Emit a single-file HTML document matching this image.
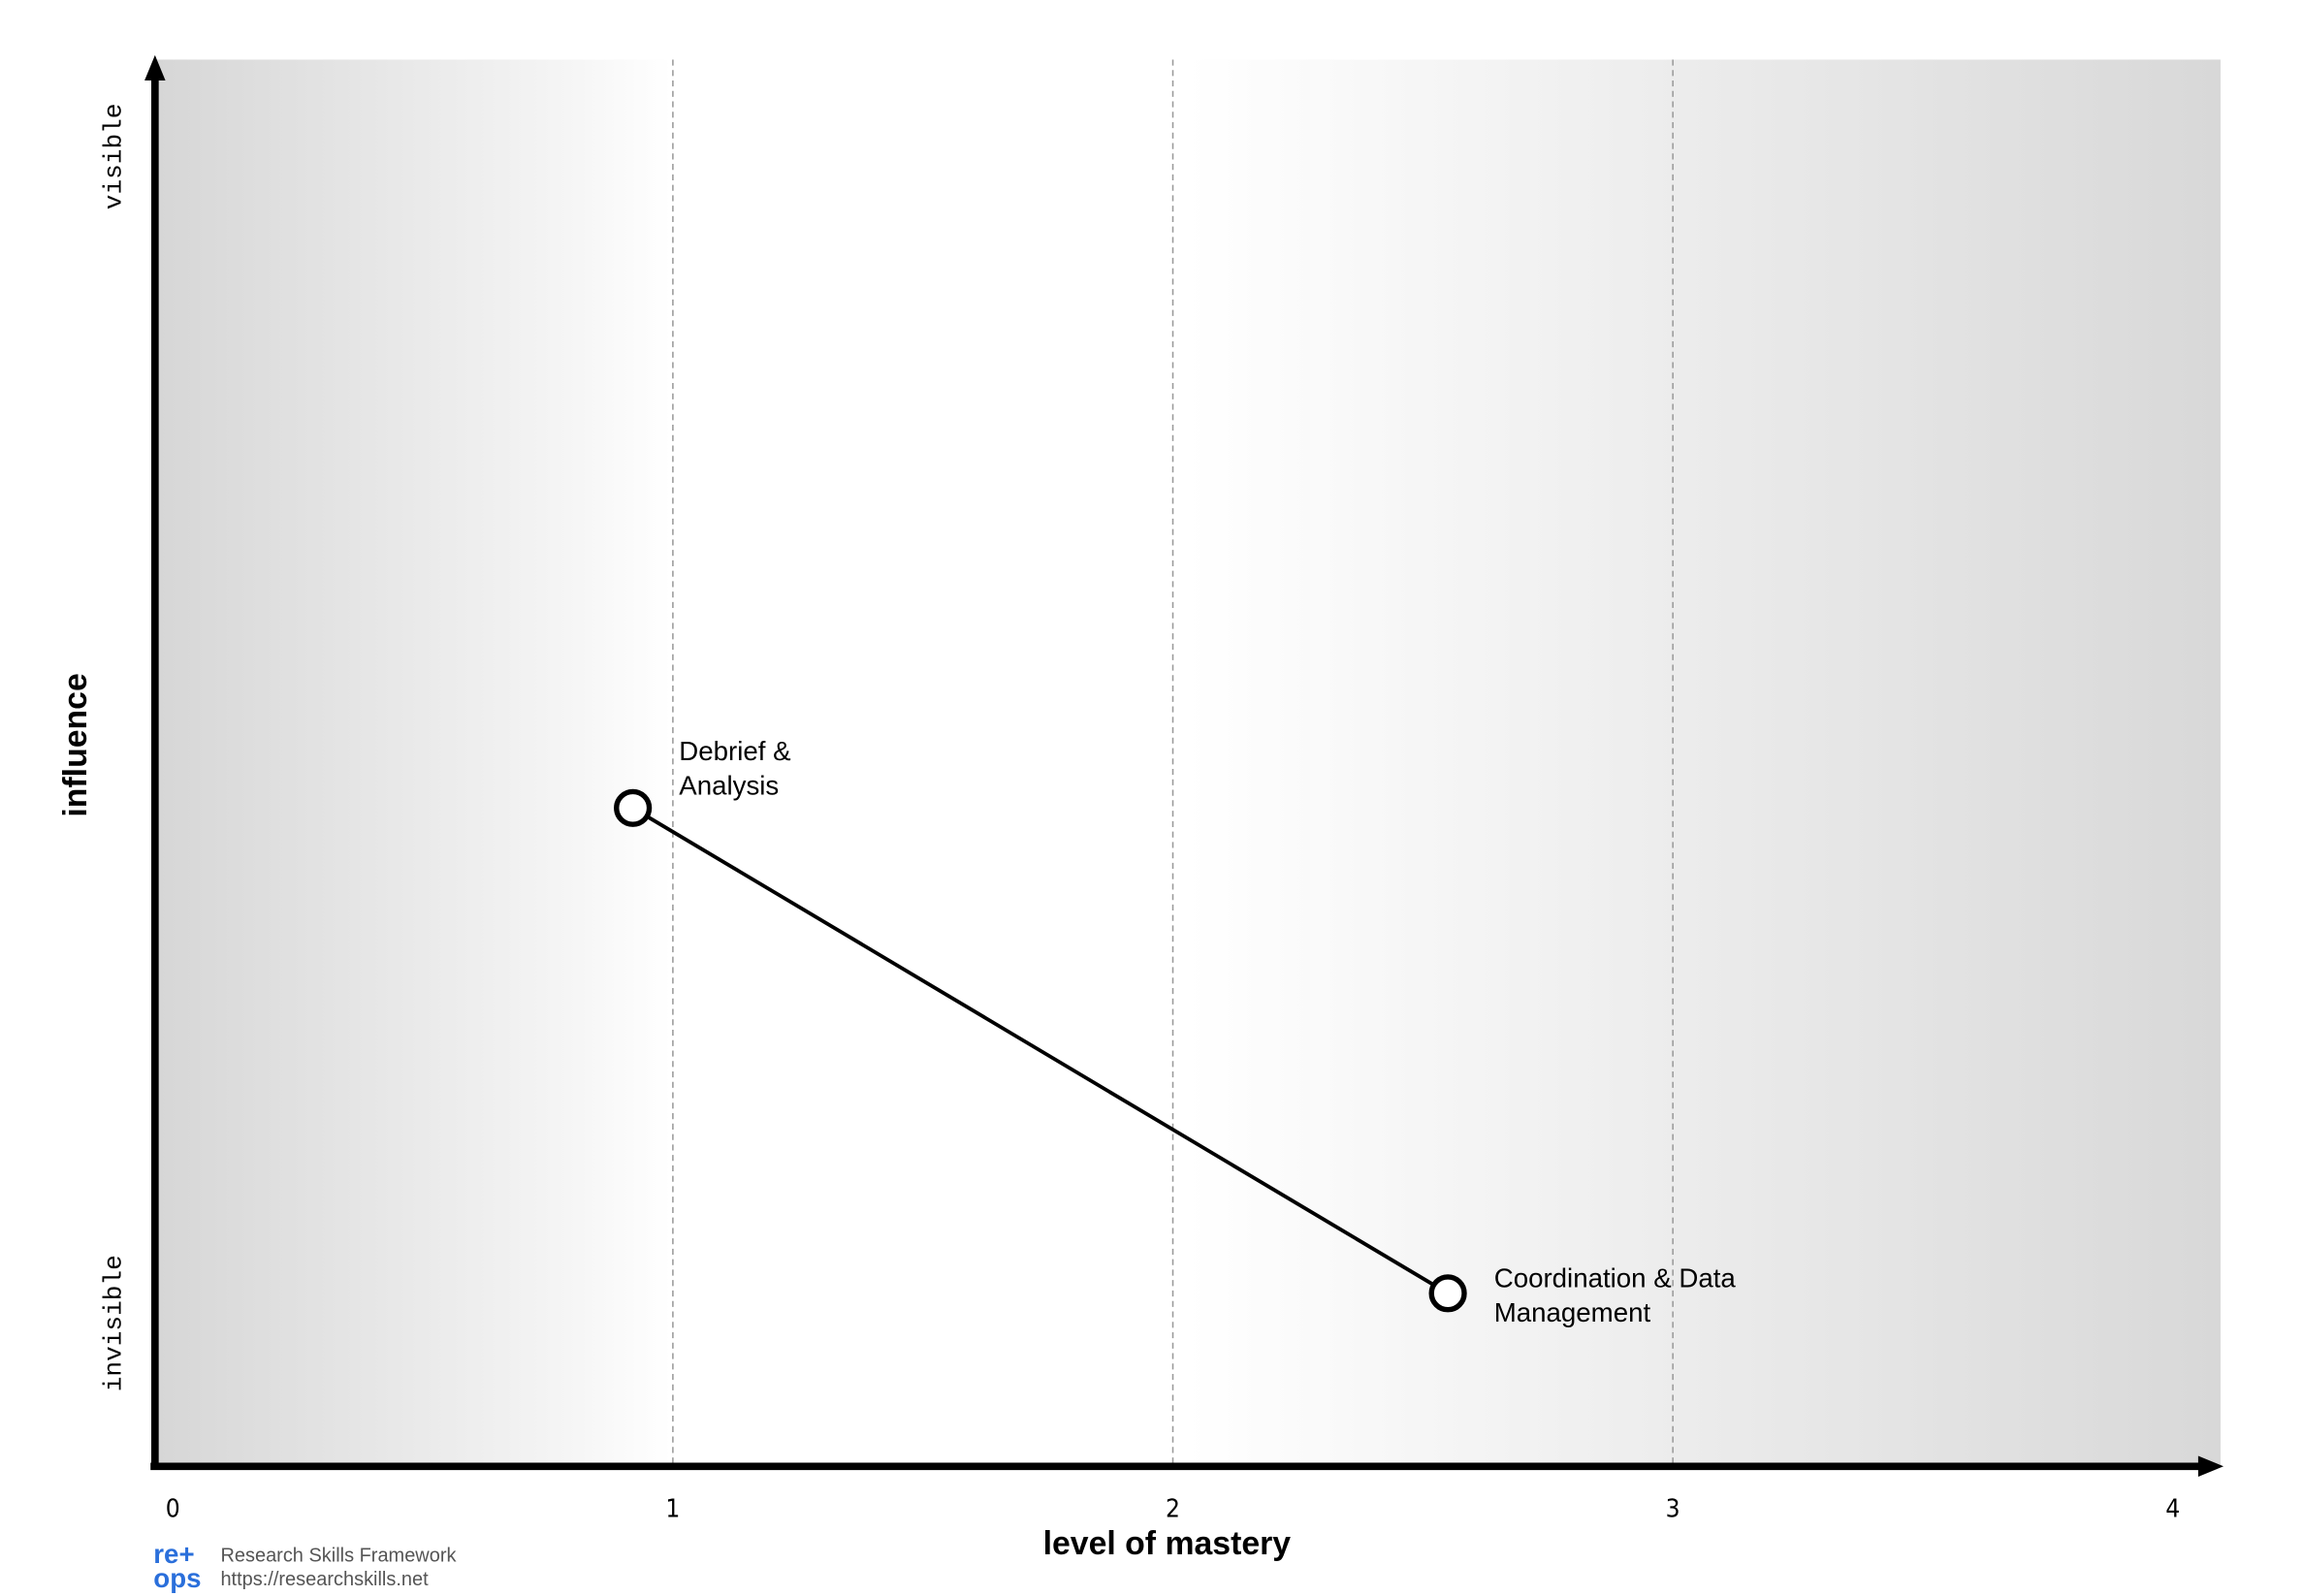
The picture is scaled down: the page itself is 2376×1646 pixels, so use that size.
<!DOCTYPE html>
<html><head><meta charset="utf-8"><style>
html,body{margin:0;padding:0;background:#fff}
svg{display:block}
</style></head><body>
<svg id="chart" width="2376" height="1646" viewBox="0 0 1546 1071" xmlns="http://www.w3.org/2000/svg">
<defs>
<linearGradient id="bg" x1="0" x2="1" y1="0" y2="0">
<stop offset="0" stop-color="#d6d6d6"/>
<stop offset="0.2" stop-color="#f5f5f5"/>
<stop offset="0.25" stop-color="#ffffff"/>
<stop offset="0.5" stop-color="#ffffff"/>
<stop offset="0.7" stop-color="#efefef"/>
<stop offset="1" stop-color="#d8d8d8"/>
</linearGradient>
</defs>
<rect x="104" y="40" width="1386" height="944" fill="url(#bg)"/>
<g id="grid"></g>
<g id="ticks"></g>
<line x1="104" y1="986" x2="104" y2="50" stroke="#000" stroke-width="5"/>
<polygon points="104,37 97,54 111,54" fill="#000"/>
<line x1="101" y1="984" x2="1478" y2="984" stroke="#000" stroke-width="5"/>
<polygon points="1492,984 1475,977 1475,991" fill="#000"/>
<text x="783" y="1043" text-anchor="middle" font-family="Liberation Sans, sans-serif" font-weight="bold" font-size="22">level of mastery</text>
<text transform="translate(58,500) rotate(-90)" text-anchor="middle" font-family="Liberation Sans, sans-serif" font-weight="bold" font-size="22">influence</text>
<text transform="translate(81,105) rotate(-90)" text-anchor="middle" font-family="Liberation Mono, monospace" font-size="17">visible</text>
<text transform="translate(81,888) rotate(-90)" text-anchor="middle" font-family="Liberation Mono, monospace" font-size="17">invisible</text>
<g id="series"></g>
<g font-family="Liberation Sans, sans-serif">
<text x="103" y="1049" fill="#2a6fdb" font-weight="bold" font-size="18">re+</text>
<text x="103" y="1065" fill="#2a6fdb" font-weight="bold" font-size="18">ops</text>
<text x="148" y="1048" fill="#555" font-size="13">Research Skills Framework</text>
<text x="148" y="1064" fill="#555" font-size="13">https://researchskills.net</text>
</g>
</svg>
<script>
const tickValues = [0, 1, 2, 3, 4];
const gridValues = [1, 2, 3];
const skillNames = [["Debrief &", "Analysis"], ["Coordination & Data", "Management"]];
const masteryValues = [0.92, 2.55];
const influenceValues = [4.68, 1.23];

const NS = "http://www.w3.org/2000/svg";
function xs(v){ return 116 + 335.5 * v; }
function ys(v){ return 984 - 94.4 * v; }
function mk(tag, attrs, parent){ const e = document.createElementNS(NS, tag); for (const k in attrs) e.setAttribute(k, attrs[k]); parent.appendChild(e); return e; }

const grid = document.getElementById('grid');
gridValues.forEach(v => {
  const l = mk('line', {x1: xs(v), x2: xs(v), y1: 40, y2: 982, stroke: '#999', 'stroke-width': 1, 'stroke-dasharray': '4,3'}, grid);
  
  
});
const ticks = document.getElementById('ticks');
tickValues.forEach(v => {
  const t = mk('text', {x: xs(v), y: 1018, 'text-anchor': 'middle', 'font-family': 'DejaVu Sans Condensed, Liberation Sans Narrow, sans-serif', 'font-size': 17}, ticks);
  t.textContent = v;
  
  
});
const series = document.getElementById('series');
const pts = masteryValues.map((m, i) => xs(m) + ',' + ys(influenceValues[i])).join(' ');
const pl = mk('polyline', {points: pts, fill: 'none', stroke: '#000', 'stroke-width': 2.5}, series);


masteryValues.forEach((m, i) => {
  const c = mk('circle', {cx: xs(m), cy: ys(influenceValues[i]), r: 11, fill: '#fff', stroke: '#000', 'stroke-width': 3.5}, series);
  
  
  const dy = (i === 0) ? -32 : -4;
  skillNames[i].forEach((line, j) => {
    const t = mk('text', {x: xs(m) + 31, y: ys(influenceValues[i]) + dy + j * 23, 'font-family': 'Liberation Sans, sans-serif', 'font-size': 18}, series);
    t.textContent = line;
    
    
  });
});
</script>
</body></html>
